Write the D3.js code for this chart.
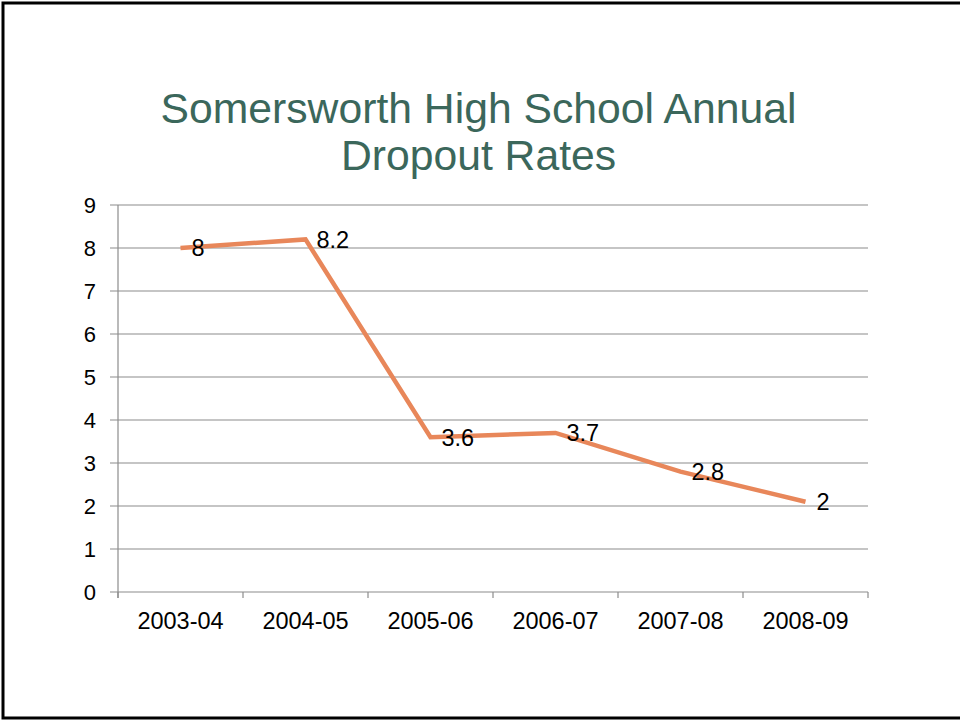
<!DOCTYPE html>
<html><head><meta charset="utf-8">
<script src="https://cdnjs.cloudflare.com/ajax/libs/d3/7.8.5/d3.min.js"></script>
<style>html,body{margin:0;padding:0;background:#fff;}svg{display:block;}</style>
</head><body>
<script>
const categories = ["2003-04","2004-05","2005-06","2006-07","2007-08","2008-09"];
const values = [8, 8.2, 3.6, 3.7, 2.8, 2.1];
const valueLabels = ["8","8.2","3.6","3.7","2.8","2"];
const yTicks = [0,1,2,3,4,5,6,7,8,9];
const titleLines = ["Somersworth High School Annual","Dropout Rates"];

(function(){
const W = 960, H = 721;
const svg = d3.select("body").append("svg").attr("width", W).attr("height", H);
svg.append("rect").attr("width", W).attr("height", H).attr("fill", "#fff");

// slide border (top, left, bottom)
svg.append("path").attr("d", `M960,3 L3,3 L3,718 L960,718`)
  .attr("fill","none").attr("stroke","#000").attr("stroke-width",3);

const font = "'Liberation Sans', Arial, sans-serif";
svg.append("g").selectAll("text").data(titleLines).join("text")
  .attr("x", 478.5).attr("y", (d,i)=>123 + i*47)
  .attr("text-anchor","middle").attr("font-family", font).attr("font-size", 42.7)
  .attr("fill", "#3b675b").text(d=>d);

const mL = 118, mR = 868, mT = 205, mB = 592;
const x = d3.scaleBand().domain(categories).range([mL, mR]);
const y = d3.scaleLinear().domain([0, 9]).range([mB, mT]);
const grid = "#8c8c8c";

svg.append("g").selectAll("line").data(yTicks).join("line")
  .attr("x1", mL - 8).attr("x2", mR)
  .attr("y1", d=>y(d)).attr("y2", d=>y(d))
  .attr("stroke", grid).attr("stroke-width", 1.2);

svg.append("line").attr("x1", mL).attr("x2", mL).attr("y1", mT).attr("y2", mB + 6)
  .attr("stroke", grid).attr("stroke-width", 1.2);

const xt = categories.map(c => x(c)).concat([mR]);
svg.append("g").selectAll("line").data(xt).join("line")
  .attr("x1", d=>d).attr("x2", d=>d).attr("y1", mB).attr("y2", mB + 6)
  .attr("stroke", grid).attr("stroke-width", 1.2);

svg.append("g").selectAll("text").data(yTicks).join("text")
  .attr("x", 96).attr("y", d=>y(d)).attr("dy", "0.36em")
  .attr("text-anchor","end").attr("font-family", font).attr("font-size", 22)
  .attr("fill","#000").text(d=>d);

svg.append("g").selectAll("text").data(categories).join("text")
  .attr("x", d=>x(d) + x.bandwidth()/2).attr("y", 629)
  .attr("text-anchor","middle").attr("font-family", font).attr("font-size", 23.5)
  .attr("fill","#000").text(d=>d);

const pts = categories.map((c,i)=>({c, v: values[i], lab: valueLabels[i]}));
const line = d3.line().x(d=>x(d.c)+x.bandwidth()/2).y(d=>y(d.v));
svg.append("path").datum(pts).attr("d", line)
  .attr("fill","none").attr("stroke","#e8875a").attr("stroke-width",4.5)
  .attr("stroke-linejoin","miter");

svg.append("g").selectAll("text").data(pts).join("text")
  .attr("x", d=>x(d.c)+x.bandwidth()/2 + 11).attr("y", d=>y(d.v)).attr("dy","0.36em")
  .attr("font-family", font).attr("font-size", 23.5).attr("fill","#000").text(d=>d.lab);
})();
</script>
</body></html>
